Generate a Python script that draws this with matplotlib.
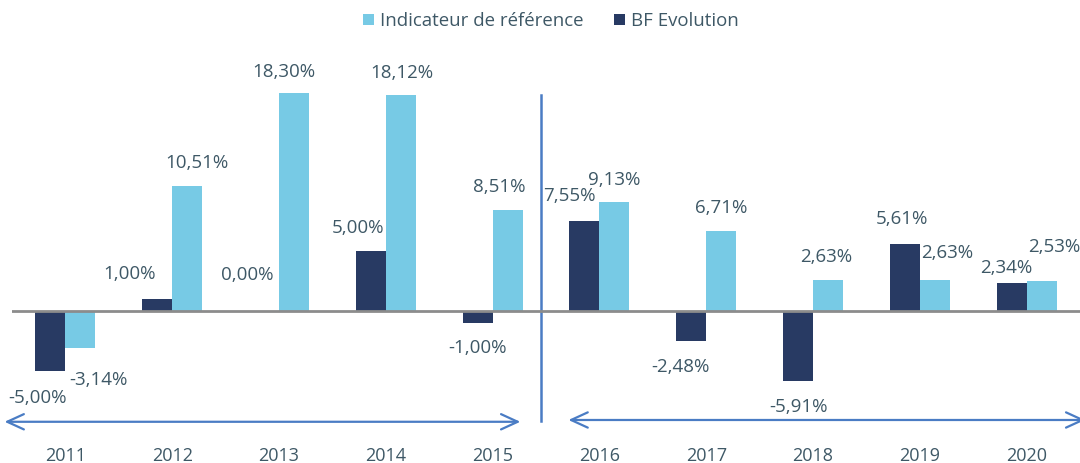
import matplotlib.pyplot as plt
import numpy as np

years = ["2011", "2012", "2013", "2014", "2015", "2016", "2017", "2018", "2019", "2020"]
bf_evolution = [-5.00, 1.00, 0.00, 5.00, -1.00, 7.55, -2.48, -5.91, 5.61, 2.34]
indicateur = [-3.14, 10.51, 18.30, 18.12, 8.51, 9.13, 6.71, 2.63, 2.63, 2.53]

NAVY = "#283a63"
LIGHT = "#77cae5"
TEXT = "#3e5866"
ARROW = "#4a7cc4"

plt.rcParams['font.family'] = ['Open Sans', 'DejaVu Sans']

# label offsets in pixels (dx, dy up) relative to bar end
bf_off = [(-13, -27), (-28, 25), (-17, 36), (-13, 23), (0, -25),
          (-15, 25), (-11, -26), (0, -26), (-3, 25), (-5, 15)]
ind_off = [(18, -32), (10, 23), (-10, 21), (1, 22), (-8, 23),
           (0, 22), (0, 23), (-2, 23), (12, 27), (13, 34)]

fig = plt.figure(figsize=(10.8, 4.63), dpi=100)
ax = fig.add_axes([12 / 1080, 1 - 440 / 463, 1068 / 1080, 400 / 463])

x = np.arange(len(years))
w = 30 / 107
ax.bar(x - w / 2, bf_evolution, w, color=NAVY, label="BF Evolution", zorder=2)
ax.bar(x + w / 2, indicateur, w, color=LIGHT, label="Indicateur de référence", zorder=2)

ax.axhline(0, color="#8c8c8c", lw=2, zorder=3)
ax.set_xlim(-0.5, len(years) - 0.5)
ax.set_ylim(-10.83, 22.75)

def fmt(v):
    return f"{v:.2f}%".replace(".", ",")

px = 0.72
for i in range(len(years)):
    for val, off, xc in [(bf_evolution[i], bf_off[i], x[i] - w / 2),
                         (indicateur[i], ind_off[i], x[i] + w / 2)]:
        ax.annotate(fmt(val), (xc, val), xytext=(off[0] * px, off[1] * px),
                    textcoords="offset points", ha="center", va="center",
                    fontsize=13.5, color=TEXT)

# divider between periods
ax.plot([4.455, 4.455], [18.1, -9.25], color=ARROW, lw=1.8, clip_on=False)

# period arrows
for x0, x1, yy in [(-0.57, 4.26, -9.3), (4.71, 9.55, -9.15)]:
    ax.annotate("", xy=(x1, yy), xytext=(x0, yy), annotation_clip=False,
                arrowprops=dict(arrowstyle="<->,head_length=1.2,head_width=0.55",
                                color=ARROW, lw=1.6, shrinkA=0, shrinkB=0))

ax.set_xticks(x, years)
ax.tick_params(axis="x", length=0, pad=5, labelsize=13, labelcolor=TEXT)
ax.set_yticks([])
for s in ax.spines.values():
    s.set_visible(False)

handles, labels = ax.get_legend_handles_labels()
fig.legend(handles[::-1], labels[::-1], loc="center", ncol=2,
           bbox_to_anchor=(551 / 1080, 1 - 21 / 463), frameon=False,
           fontsize=13.4, labelcolor=TEXT, handlelength=0.6, handleheight=0.6,
           handletextpad=0.3, columnspacing=1.65)

fig.savefig("out.png", dpi=100)
